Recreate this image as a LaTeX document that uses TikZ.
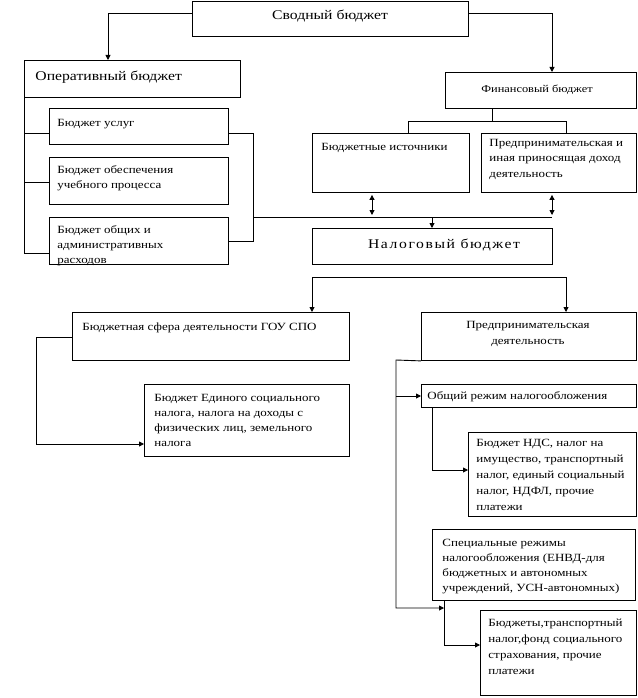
\documentclass[tikz,border=0pt]{standalone}
\usepackage{fontspec}
\setmainfont[FakeStretch=1.18]{Liberation Serif}
\usetikzlibrary{arrows.meta,calc}
\newcommand{\mystrut}{\rule{0pt}{8pt}}
\begin{document}
\begin{tikzpicture}[x=1pt,y=-1pt,line width=0.9pt,
  box/.style={draw,inner sep=0pt,anchor=north west,line width=0.9pt},
  txt/.style={inner sep=0pt,anchor=north west,align=left,font=\fontsize{11}{15}\selectfont},
  big/.style={inner sep=0pt,anchor=base,font=\fontsize{13.3}{16}\selectfont},
  arr/.style={-{Triangle[length=5pt,width=5pt]}},
  darr/.style={{Triangle[length=5pt,width=5pt]}-{Triangle[length=5pt,width=5pt]},shorten <=2pt,shorten >=2pt}]
\useasboundingbox (0,0) rectangle (637,698);
% boxes
\node[box,minimum width=276pt,minimum height=35pt] (svod) at (192,1) {};
\node[box,minimum width=216pt,minimum height=37pt] (oper) at (24,60) {};
\node[box,minimum width=179pt,minimum height=36pt] (usl) at (49,108) {};
\node[box,minimum width=179pt,minimum height=47pt] (obesp) at (49,157) {};
\node[box,minimum width=179pt,minimum height=47pt] (obsh) at (49,217) {};
\node[box,minimum width=191pt,minimum height=36pt] (fin) at (445,72) {};
\node[box,minimum width=157pt,minimum height=59pt] (bist) at (312,133) {};
\node[box,minimum width=155pt,minimum height=59pt] (pred) at (481,133) {};
\node[box,minimum width=240pt,minimum height=36pt] (nal) at (312,228) {};
\node[box,minimum width=277pt,minimum height=48pt] (bsf) at (72,312) {};
\node[box,minimum width=205pt,minimum height=72pt] (bed) at (144,384) {};
\node[box,minimum width=215pt,minimum height=48pt] (pd) at (421,312) {};
\node[box,minimum width=215pt,minimum height=23pt] (obr) at (421,384) {};
\node[box,minimum width=168pt,minimum height=84pt] (nds) at (468,432) {};
\node[box,minimum width=203pt,minimum height=71pt] (spec) at (432,529) {};
\node[box,minimum width=156pt,minimum height=85pt] (bud) at (480,610) {};
% texts
\node[big] (svodt) at (330,20) {Сводный бюджет};
\node[big,anchor=base west] (opert) at (35,81) {Оперативный бюджет};
\node[txt,anchor=base,font=\fontsize{10.5}{13}\selectfont] (fint) at (537,93) {Финансовый бюджет};
\node[txt] (uslt) at (57,118) {\mystrut Бюджет услуг};
\node[txt] (obespt) at (57,165) {\mystrut Бюджет обеспечения\\учебного процесса};
\node[txt] (obsht) at (57,225) {\mystrut Бюджет общих и\\административных\\расходов};
\node[txt] (bistt) at (321,142) {\mystrut Бюджетные источники};
\node[txt,font=\fontsize{11}{15.5}\selectfont] (predt) at (489,138) {\mystrut Предпринимательская и\\иная приносящая доход\\деятельность};
\node[big,font=\fontsize{13.3}{16}\selectfont\addfontfeatures{LetterSpace=12}] (nalt) at (444,248) {Налоговый бюджет};
\node[txt] (bsft) at (82,322) {\mystrut Бюджетная сфера деятельности ГОУ СПО};
\node[txt] (bedt) at (154,393) {\mystrut Бюджет Единого социального\\налога, налога на доходы с\\физических лиц, земельного\\налога};
\node[txt,anchor=north,align=center,font=\fontsize{11}{16.5}\selectfont] (pdt) at (528,320) {\mystrut Предпринимательская\\деятельность};
\node[txt] (obrt) at (427,391) {\mystrut Общий режим налогообложения};
\node[txt,font=\fontsize{11}{16}\selectfont] (ndst) at (476,438) {\mystrut Бюджет НДС, налог на\\имущество, транспортный\\налог, единый социальный\\налог, НДФЛ, прочие\\платежи};
\node[txt,font=\fontsize{11}{15}\selectfont] (spect) at (442,538) {\mystrut Специальные режимы\\налогообложения (ЕНВД-для\\бюджетных и автономных\\учреждений, УСН-автономных)};
\node[txt,font=\fontsize{11}{16}\selectfont] (budt) at (488,618) {\mystrut Бюджеты,транспортный\\налог,фонд социального\\страхования, прочие\\платежи};
% connector coordinates
\coordinate (k1) at (108,13);
\coordinate (k2) at (552,13);
\coordinate (k3) at (492,121);
\coordinate (k4) at (408,121);
\coordinate (k5) at (566,121);
\coordinate (L1) at (24,133);
\coordinate (L2) at (24,182);
\coordinate (L3) at (24,253);
\coordinate (R1) at (253,133);
\coordinate (R2) at (253,241);
\coordinate (R3) at (253,217);
\coordinate (H1) at (552,217);
\coordinate (D1) at (372,217);
\coordinate (D2) at (432,217);
\coordinate (M1) at (312,277);
\coordinate (M2) at (566,277);
\coordinate (B1) at (36,337);
\coordinate (B2) at (36,444);
\coordinate (P1) at (396,360);
\coordinate (P2) at (396,608);
\coordinate (P3) at (396,396);
\coordinate (O1) at (432,470);
\coordinate (S1) at (444,645);
% connectors
\draw[arr] (svod.west |- k1) -| (oper.north -| k1);
\draw[arr] (svod.east |- k2) -| (fin.north -| k2);
\draw (fin.south -| k3) -- (k3);
\draw (bist.north -| k4) |- (k5) -- (pred.north -| k5);
\draw (oper.south west) -- (L3) -- (obsh.west |- L3);
\draw (L1) -- (usl.west |- L1);
\draw (L2) -- (obesp.west |- L2);
\draw (usl.east |- R1) -- (R1) -- (R2) -- (obsh.east |- R2);
\draw (R3) -- (H1);
\draw[darr] (bist.south -| D1) -- (D1);
\draw[darr] (pred.south -| H1) -- (H1);
\draw[arr] (D2) -- (nal.north -| D2);
\draw (M1) -- (M2);
\draw[arr] (M1) -- (bsf.north -| M1);
\draw[arr] (M2) -- (pd.north -| M2);
\draw[arr] (bsf.west |- B1) -- (B1) -- (B2) -- (bed.west |- B2);
\draw[arr] (pd.south west) -- (P1) -- (P2) -- (S1 |- P2);
\draw[arr] (P3) -- (obr.west |- P3);
\draw[arr] (obr.south -| O1) -- (O1) -- (nds.west |- O1);
\draw[arr] (spec.south -| S1) -- (S1) -- (bud.west |- S1);
\end{tikzpicture}
\end{document}
